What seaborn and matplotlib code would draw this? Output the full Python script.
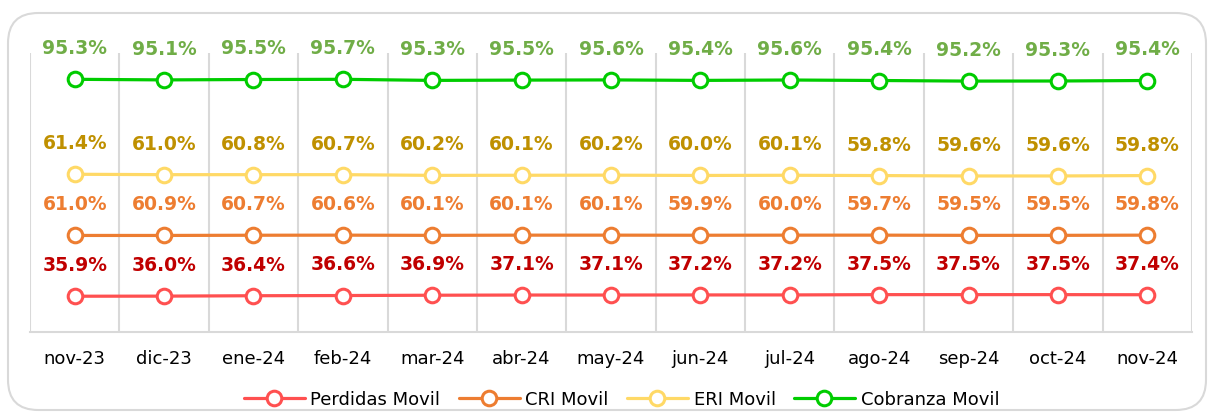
import matplotlib
matplotlib.use("Agg")
import matplotlib.pyplot as plt
from matplotlib.patches import FancyBboxPatch
import numpy as np
import pandas as pd
import seaborn as sns

months = ["nov-23", "dic-23", "ene-24", "feb-24", "mar-24", "abr-24", "may-24",
          "jun-24", "jul-24", "ago-24", "sep-24", "oct-24", "nov-24"]
perdidas = [35.9, 36.0, 36.4, 36.6, 36.9, 37.1, 37.1, 37.2, 37.2, 37.5, 37.5, 37.5, 37.4]
cri = [61.0, 60.9, 60.7, 60.6, 60.1, 60.1, 60.1, 59.9, 60.0, 59.7, 59.5, 59.5, 59.8]
eri = [61.4, 61.0, 60.8, 60.7, 60.2, 60.1, 60.2, 60.0, 60.1, 59.8, 59.6, 59.6, 59.8]
cobranza = [95.3, 95.1, 95.5, 95.7, 95.3, 95.5, 95.6, 95.4, 95.6, 95.4, 95.2, 95.3, 95.4]

series_names = ["Perdidas Movil", "CRI Movil", "ERI Movil", "Cobranza Movil"]
series_vals = [perdidas, cri, eri, cobranza]
line_colors = ["#FF5050", "#ED7D31", "#FFD966", "#00CC00"]
label_colors = ["#C00000", "#ED7D31", "#BF9000", "#70AD47"]

sns.set_style("white")
plt.rcParams["font.family"] = ["DejaVu Sans"]

fig = plt.figure(figsize=(12.09, 4.12), dpi=100)
W, H = 1209, 412
ax = fig.add_axes([30 / W, (H - 332) / H, (1192 - 30) / W, (332 - 53) / H])

# outer rounded frame
frame = FancyBboxPatch((8 / W, 2 / H), (1206 - 8) / W, (410 - 13) / H,
                       boxstyle="round,pad=0,rounding_size=0.025",
                       transform=fig.transFigure, facecolor="none",
                       edgecolor="#D9D9D9", linewidth=1.5, mutation_aspect=W / H,
                       clip_on=False, zorder=0)
fig.patches.append(frame)

# stacked line chart: cumulative values
stack = np.cumsum(np.array(series_vals), axis=0)
x = np.arange(len(months))

for i, name in enumerate(series_names):
    df = pd.DataFrame({"x": x, "y": stack[i]})
    sns.lineplot(data=df, x="x", y="y", ax=ax, color=line_colors[i], linewidth=2.3,
                 marker="o", markersize=10.5, markerfacecolor="white",
                 markeredgecolor=line_colors[i], markeredgewidth=2.2,
                 label=name, zorder=3)
    for xi, yi, v in zip(x, stack[i], series_vals[i]):
        ax.annotate(f"{v:.1f}%", (xi, yi), xytext=(0, 22), textcoords="offset points",
                    ha="center", va="center", fontsize=13.5, fontweight="bold",
                    color=label_colors[i], annotation_clip=False)

ax.set_xlim(-0.5, len(months) - 0.5)
ax.set_ylim(0, 280)
ax.set_xticks(x)
ax.set_xticklabels(months, fontsize=13, color="#000000")
ax.set_yticks([])
ax.set_xlabel("")
ax.set_ylabel("")
ax.tick_params(axis="x", length=0, pad=13)

# category separators (vertical gridlines)
for b in np.arange(-0.5, len(months), 1.0):
    ax.axvline(b, color="#D9D9D9", linewidth=1.5, zorder=1)

for s in ["top", "right", "left"]:
    ax.spines[s].set_visible(False)
ax.spines["bottom"].set_color("#D9D9D9")
ax.spines["bottom"].set_linewidth(1.5)

handles, labels = ax.get_legend_handles_labels()
ax.legend_.remove()
fig.legend(handles, labels, loc="center", bbox_to_anchor=(0.514, 0.03), ncol=4,
           frameon=False, fontsize=13, handlelength=3.4, columnspacing=1.0,
           handletextpad=0.3, labelcolor="#000000")

fig.savefig("out.png", dpi=100)
